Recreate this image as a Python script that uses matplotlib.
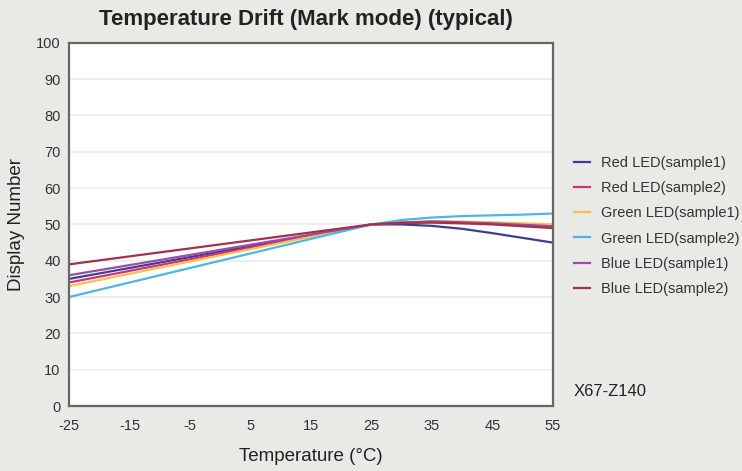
import numpy as np
import matplotlib
matplotlib.use("Agg")
import matplotlib.pyplot as plt

plt.rcParams['font.family'] = ['Liberation Sans', 'DejaVu Sans']
narrow = ['Liberation Sans Narrow', 'Liberation Sans', 'DejaVu Sans']

temps = [-25, -20, -15, -10, -5, 0, 5, 10, 15, 20, 25, 30, 35, 40, 45, 50, 55]
red1 = [35, 36.5, 38, 39.5, 41, 42.5, 44, 45.5, 47, 48.5, 50, 50.0, 49.6, 48.8, 47.6, 46.3, 45.0]
red2 = [34, 35.6, 37.2, 38.8, 40.4, 42, 43.6, 45.2, 46.8, 48.4, 50, 50.5, 50.7, 50.6, 50.3, 50.0, 49.6]
green1 = [33, 34.7, 36.4, 38.1, 39.8, 41.5, 43.2, 44.9, 46.6, 48.3, 50, 50.6, 50.9, 50.8, 50.6, 50.3, 50.0]
green2 = [30, 32, 34, 36, 38, 40, 42, 44, 46, 48, 50, 51.2, 51.9, 52.3, 52.5, 52.7, 53.0]
blue1 = [36, 37.4, 38.8, 40.2, 41.6, 43, 44.4, 45.8, 47.2, 48.6, 50, 50.5, 50.8, 50.6, 50.3, 49.9, 49.5]
blue2 = [39, 40.1, 41.2, 42.3, 43.4, 44.5, 45.6, 46.7, 47.8, 48.9, 50, 50.4, 50.5, 50.3, 50.0, 49.5, 49.0]

labels = ["Red LED(sample1)", "Red LED(sample2)", "Green LED(sample1)",
          "Green LED(sample2)", "Blue LED(sample1)", "Blue LED(sample2)"]
series = [red1, red2, green1, green2, blue1, blue2]
colors = ["#3d3f8c", "#d42f78", "#f4c24a", "#4cb8e2", "#9a4ca6", "#a3314d"]

xticks = [-25, -15, -5, 5, 15, 25, 35, 45, 55]
yticks = list(range(0, 101, 10))

bg = "#e9e9e6"
fig = plt.figure(figsize=(7.42, 4.71), dpi=100, facecolor=bg)
ax = fig.add_axes([0.093, 0.138, 0.652, 0.771])
ax.set_facecolor("white")

for ys, c, lab in zip(series, colors, labels):
    ax.plot(temps, ys, color=c, lw=1.6, label=lab)

ax.set_xlim(-25, 55); ax.set_ylim(0, 100)
ax.set_xticks(xticks); ax.set_yticks(yticks)
ax.set_xticklabels([str(t) for t in xticks], family=narrow)
ax.set_yticklabels([str(t) for t in yticks], family=narrow)
ax.grid(axis="y", color="#ececec", lw=1.2)
ax.set_axisbelow(True)
ax.tick_params(length=0, labelsize=10.5, colors="#333333")
ax.tick_params(axis="x", pad=9)
ax.tick_params(axis="y", pad=6)
for s in ax.spines.values():
    s.set_color("#666666"); s.set_linewidth(1.6)

ax.set_xlabel("Temperature (°C)", fontsize=13.5, color="#222222", labelpad=11, family=narrow)
ax.set_ylabel("Display Number", fontsize=13.5, color="#222222", labelpad=8, family=narrow)

fig.text(0.412, 0.958, "Temperature Drift (Mark mode) (typical)", fontsize=16,
         fontweight="bold", color="#222222", va="center", ha="center", family=narrow)
fig.text(0.773, 0.168, "X67-Z140", fontsize=12, color="#222222", va="center")

leg = ax.legend(loc="upper left", bbox_to_anchor=(1.016, 0.725), frameon=False,
                fontsize=10.5, handlelength=1.1, labelspacing=0.77, handletextpad=0.8)
for t in leg.get_texts():
    t.set_color("#333333")

plt.savefig("out.png", dpi=100, facecolor=bg)
